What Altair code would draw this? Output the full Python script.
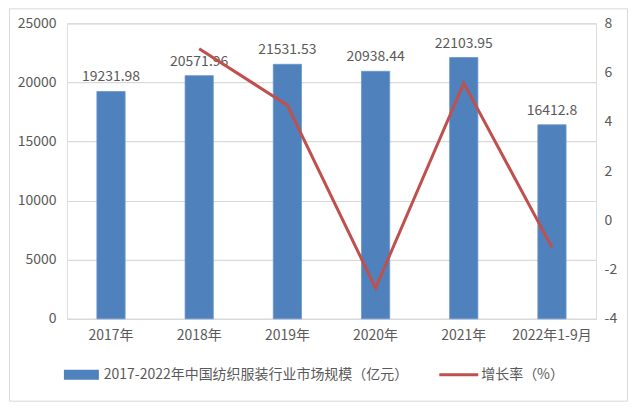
import altair as alt
import pandas as pd

categories = ["2017年", "2018年", "2019年", "2020年", "2021年", "2022年1-9月"]
market_size = [19231.98, 20571.96, 21531.53, 20938.44, 22103.95, 16412.8]
growth_years = ["2018年", "2019年", "2020年", "2021年", "2022年1-9月"]
growth_rate = [6.97, 4.67, -2.75, 5.57, -1.1]
bar_label = "2017-2022年中国纺织服装行业市场规模（亿元）"
line_label = "增长率（%）"

FONT = "Noto Sans CJK SC"
TXT = "#595959"
BLUE = "#4f81bd"
RED = "#c0504d"

bars_df = pd.DataFrame({"cat": categories, "v": market_size})
line_df = pd.DataFrame({"cat": growth_years, "g": growth_rate})

W, H = 530, 296

xenc = alt.X("cat:N", sort=categories, title=None,
             scale=alt.Scale(paddingInner=0.68, paddingOuter=0.34),
             axis=alt.Axis(labelAngle=0, labelColor=TXT, labelFontSize=14, labelFont=FONT,
                           domain=True, domainColor="#d9d9d9", ticks=False, labelPadding=10))

bars = alt.Chart(bars_df).mark_bar(color=BLUE, stroke="#6a96cc", strokeWidth=0.8).encode(
    x=xenc,
    y=alt.Y("v:Q", title=None, scale=alt.Scale(domain=[0, 25000], nice=False),
            axis=alt.Axis(values=[0, 5000, 10000, 15000, 20000, 25000], labelColor=TXT,
                          labelExpr="'' + datum.value",
                          labelFontSize=14, labelFont=FONT, domain=False, ticks=False,
                          labelPadding=11, gridColor="#d9d9d9", gridWidth=1.2)),
)

labels = alt.Chart(bars_df).mark_text(baseline="bottom", dy=-7, fontSize=14, font=FONT, color=TXT).encode(
    x=alt.X("cat:N", sort=categories),
    y=alt.Y("v:Q", scale=alt.Scale(domain=[0, 25000], nice=False)),
    text=alt.Text("v:Q"),
)

left = alt.layer(bars, labels)

line = alt.Chart(line_df).mark_line(color=RED, strokeWidth=3).encode(
    x=alt.X("cat:N", sort=categories),
    y=alt.Y("g:Q", title=None, scale=alt.Scale(domain=[-4, 8], nice=False),
            axis=alt.Axis(orient="right", values=[-4, -2, 0, 2, 4, 6, 8], labelColor=TXT,
                          labelExpr="'' + datum.value",
                          labelFontSize=14, labelFont=FONT, domain=False, ticks=False,
                          labelPadding=8, grid=False)),
)

one = pd.DataFrame({"a": [0]})
leg_rect = alt.Chart(one).mark_rect(color=BLUE).encode(
    x=alt.value(-3), x2=alt.value(32), y=alt.value(347), y2=alt.value(357))
leg_text1 = alt.Chart(one).mark_text(align="left", baseline="middle", fontSize=14, font=FONT, color=TXT).encode(
    x=alt.value(37), y=alt.value(352), text=alt.value(bar_label))
leg_line = alt.Chart(one).mark_rule(color=RED, strokeWidth=3).encode(
    x=alt.value(373), x2=alt.value(412), y=alt.value(352))
leg_text2 = alt.Chart(one).mark_text(align="left", baseline="middle", fontSize=14, font=FONT, color=TXT).encode(
    x=alt.value(415), y=alt.value(352), text=alt.value(line_label))
border = alt.Chart(one).mark_rect(fill=None, stroke="#d9d9d9", strokeWidth=1).encode(
    x=alt.value(-57.5), x2=alt.value(561.5), y=alt.value(-14.5), y2=alt.value(378.5))

chart = alt.layer(left, line, leg_rect, leg_text1, leg_line, leg_text2, border).resolve_scale(
    y="independent"
).properties(
    width=W, height=H,
    autosize=alt.AutoSizeParams(type="none"),
    padding={"left": 59, "top": 15, "right": 33, "bottom": 86},
).configure_view(stroke=None).configure(background="white")

chart.save("out.html", embed_options={"renderer": "svg", "actions": False})
